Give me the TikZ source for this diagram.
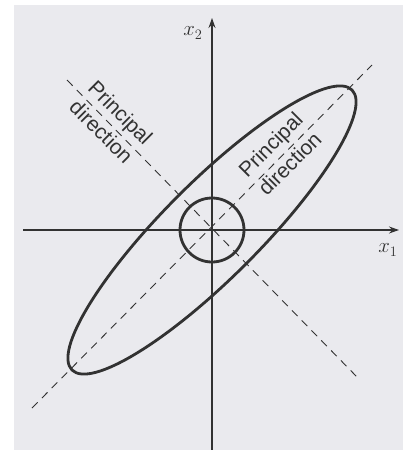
\documentclass[tikz,border=0pt]{standalone}
\usepackage{fontspec}
\setsansfont{Liberation Sans}
\usetikzlibrary{arrows.meta}
\definecolor{bg}{RGB}{234,234,238}
\definecolor{ink}{RGB}{50,50,50}
\tikzset{
  axisline/.style={draw=ink,line width=1.1pt,-{Stealth[length=10pt,width=7pt]}},
  dashline/.style={draw=ink,line width=0.9pt,dash pattern=on 8pt off 6pt},
  thickcurve/.style={draw=ink,line width=2.8pt},
  pdlabel/.style={font=\sffamily\fontsize{21}{22}\selectfont,text=ink,align=center,inner sep=0pt},
  axlabel/.style={font=\fontsize{22}{23}\selectfont,text=ink,inner sep=0pt}
}
\begin{document}
\begin{tikzpicture}[x=1pt,y=-1pt]
\useasboundingbox (0,0) rectangle (403,450);
\fill[white] (0,0) rectangle (403,450);
\fill[bg] (14,5) rectangle (403,450);
\coordinate (O) at (212,230);
\coordinate (xl) at (23,230);
\coordinate (xr) at (399,230);
\coordinate (yb) at (212,450);
\coordinate (yt) at (212,18);
\coordinate (ma) at (32,408);
\coordinate (mb) at (372,65);
\coordinate (na) at (67,80);
\coordinate (nb) at (358,378);
\draw[dashline] (ma) -- (mb);
\draw[dashline] (na) -- (nb);
\draw[axisline] (xl) -- (xr);
\draw[axisline] (yb) -- (yt);
\draw[thickcurve] (O) circle[radius=32];
\draw[thickcurve,rotate around={45:(O)}] (O) ellipse[x radius=198,y radius=48];
\node[pdlabel,rotate=-45] (pl) at (111,122) {Principal\\[5pt]direction};
\node[pdlabel,rotate=45] (pr) at (280,154) {Principal\\[5pt]direction};
\node[axlabel] (x2) at (193,33) {$x_2$};
\node[axlabel] (x1) at (388,250) {$x_1$};
\end{tikzpicture}
\end{document}
